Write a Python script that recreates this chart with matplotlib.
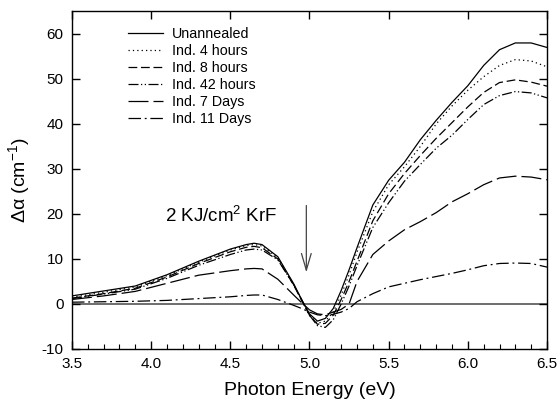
import matplotlib
matplotlib.use('Agg')
import numpy as np
from matplotlib import pyplot as plt
from matplotlib.ticker import MultipleLocator, FormatStrFormatter

# photon energy grid (eV)
energy = [3.5, 3.7, 3.9, 4.1, 4.3, 4.5, 4.6, 4.65, 4.7, 4.8, 4.9, 4.95, 5.0, 5.05, 5.1, 5.15,
          5.2, 5.25, 5.3, 5.4, 5.5, 5.6, 5.7, 5.8, 5.9, 6.0, 6.1, 6.2, 6.3, 6.4, 6.5]

unannealed = [1.8, 2.9, 4.0, 6.5, 9.5, 12.2, 13.2, 13.5, 13.2, 10.5, 4.5, 1.0, -2.2, -3.8, -3.2, -1.0,
              3.0, 7.6, 12.5, 22.0, 27.5, 31.5, 36.5, 40.8, 44.8, 48.5, 53.0, 56.5, 58.0, 58.0, 57.0]
ind_4h = [1.5, 2.6, 3.8, 6.3, 9.3, 12.0, 13.0, 13.2, 12.9, 10.3, 4.3, 0.8, -2.5, -4.3, -3.8, -1.8,
          2.0, 6.5, 11.5, 20.5, 26.5, 30.5, 35.0, 40.0, 44.0, 47.5, 50.5, 53.0, 54.3, 54.0, 52.7]
ind_8h = [1.3, 2.3, 3.5, 6.0, 9.0, 11.6, 12.6, 12.8, 12.5, 10.0, 4.2, 0.8, -2.5, -4.5, -4.3, -2.5,
          1.0, 5.0, 9.5, 18.5, 24.5, 29.0, 33.0, 36.8, 40.3, 43.8, 47.0, 49.2, 49.8, 49.3, 48.4]
ind_42h = [1.2, 2.2, 3.3, 5.7, 8.6, 11.0, 12.0, 12.2, 12.0, 9.8, 4.3, 1.0, -2.5, -4.8, -5.2, -3.5,
           0.0, 4.0, 8.5, 17.0, 22.5, 27.3, 31.0, 34.6, 37.5, 41.0, 44.3, 46.3, 47.2, 46.9, 45.8]
ind_7d = [1.0, 1.8, 2.8, 4.6, 6.4, 7.4, 7.8, 7.9, 7.8, 5.5, 2.0, 0.3, -1.3, -2.2, -2.4, -1.8,
          -1.2, 0.0, 5.0, 11.0, 14.0, 16.5, 18.3, 20.3, 22.7, 24.5, 26.5, 28.0, 28.4, 28.2, 27.6]
ind_11d = [0.4, 0.5, 0.6, 0.8, 1.2, 1.6, 1.9, 2.0, 2.0, 1.0, -0.3, -1.0, -1.8, -2.4, -2.6, -2.3,
           -1.8, -1.0, 0.5, 2.3, 3.8, 4.6, 5.4, 6.1, 6.8, 7.6, 8.5, 9.0, 9.1, 9.0, 8.2]

labels = ["Unannealed", "Ind. 4 hours", "Ind. 8 hours", "Ind. 42 hours", "Ind. 7 Days", "Ind. 11 Days"]
series = [unannealed, ind_4h, ind_8h, ind_42h, ind_7d, ind_11d]
styles = ['-', (0, (1, 2.5)), (0, (7, 3)), (0, (8, 2, 1, 2, 1, 2)), (0, (16, 4)), (0, (10, 3, 1.5, 3))]

plt.rcParams["font.family"] = ["Liberation Sans", "DejaVu Sans"]
plt.rcParams["axes.unicode_minus"] = False
plt.rcParams["mathtext.default"] = 'regular'

fig = plt.figure(figsize=(5.58, 4.12), dpi=100)
ax = fig.add_axes([72 / 558, 1 - 349 / 412, 475 / 558, 338 / 412])

# 零线
ax.axhline(0, color='#555555', lw=1.2, zorder=1)

for y, lab, ls in zip(series, labels, styles):
    ax.plot(energy, y, color='black', lw=0.9, ls=ls, label=lab)

ax.set_xlim(3.5, 6.5)
ax.set_ylim(-10, 65.1)
ax.xaxis.set_major_locator(MultipleLocator(0.5))
ax.xaxis.set_minor_locator(MultipleLocator(0.1))
ax.set_yticks(np.arange(-10, 61, 10))
ax.xaxis.set_major_formatter(FormatStrFormatter('%.1f'))
ax.tick_params(which='major', direction='in', length=6, width=1, top=True, right=True,
               labelsize=11, pad=6)
ax.tick_params(which='minor', direction='in', length=3.5, width=0.8, top=False)
for s in ax.spines.values():
    s.set_linewidth(1)

ax.set_xlabel("Photon Energy (eV)", fontsize=14, labelpad=8)
ax.set_ylabel("Δα (cm$^{-1}$)", fontsize=14, labelpad=7)

# 注释
ax.text(4.085, 18.2, "2 KJ/cm$^{2}$ KrF", fontsize=13.5, ha='left', va='baseline')
ax.annotate("", xy=(4.98, 6.4), xytext=(4.98, 22.5),
            arrowprops=dict(arrowstyle='->,head_length=1.2,head_width=0.35', color='#444444', lw=0.9))

leg = ax.legend(loc='upper left', bbox_to_anchor=(0.103, 0.973), frameon=False, fontsize=10.3,
                handlelength=2.45, labelspacing=0.2, handletextpad=0.63, borderpad=0)

fig.savefig("out.png", dpi=100)
